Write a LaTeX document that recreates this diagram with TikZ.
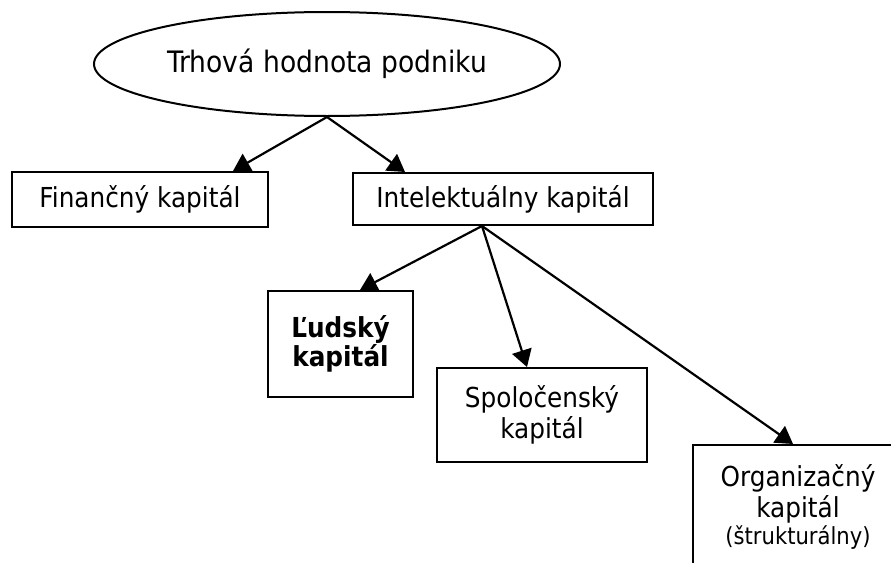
\documentclass[tikz,border=0pt]{standalone}
\usepackage{fontspec}
\setmainfont{DejaVu Sans}[FakeStretch=0.9]
\usetikzlibrary{arrows.meta,shapes.geometric}

\tikzset{
  kapital/.style={draw, rectangle, line width=2pt, align=center, inner sep=0pt,
    font=\fontsize{27.5}{31}\selectfont},
  sipka/.style={-{Triangle[length=17pt,width=20pt]}, line width=2.2pt}
}

\begin{document}
\begin{tikzpicture}[x=1pt,y=-1pt]
        \useasboundingbox (0,0) rectangle (891,562);
        \clip (0,0) rectangle (891,562);

        \node[ellipse, draw, line width=2pt, inner sep=0pt, minimum width=466pt, minimum height=104pt,
          font=\fontsize{29.5}{33}\selectfont] (trh) at (327,64) {Trhová hodnota podniku};

        \begin{scope}[every node/.style={kapital}]
          \node[minimum width=256pt, minimum height=55pt] (fin)  at (140,199.5) {Finančný kapitál};
          \node[minimum width=300pt, minimum height=52pt] (int)  at (503,199)   {Intelektuálny kapitál};
          \node[minimum width=145pt, minimum height=106pt, font=\fontsize{27.5}{29}\selectfont\bfseries] (lud) at (340.5,344) {Ľudský\\kapitál};
          \node[minimum width=210pt, minimum height=94pt] (spol) at (542,415) {Spoločenský\\kapitál};
          \node[minimum width=210pt, inner ysep=19pt, anchor=north] (org) at (798,444)
            {Organizačný\\kapitál\\[-4pt]{\fontsize{23.5}{27}\selectfont (štrukturálny)}};
        \end{scope}

        \begin{scope}[every path/.style={sipka}]
          \draw (trh.south) -- ([xshift=93pt]fin.north);
          \draw (trh.south) -- ([xshift=-98pt]int.north);
          \draw ([xshift=-21pt]int.south) -- ([xshift=19.5pt]lud.north);
          \draw ([xshift=-21pt]int.south) -- ([xshift=-15pt]spol.north);
          \draw ([xshift=-21pt]int.south) -- ([xshift=-5pt]org.north);
        \end{scope}

      \end{tikzpicture}
\end{document}
